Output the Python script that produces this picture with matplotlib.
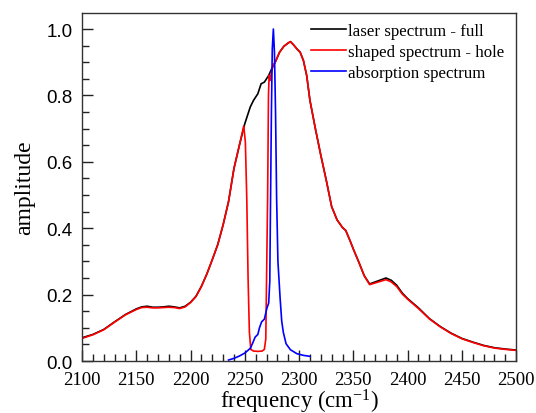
import numpy as np
import matplotlib
matplotlib.use('Agg')
import matplotlib.pyplot as plt
from matplotlib.ticker import MultipleLocator

# laser spectrum - full (black)
freq_full = [2100, 2110, 2120, 2130, 2140, 2150, 2155, 2160, 2165, 2170, 2175,
             2180, 2185, 2190, 2195, 2200, 2205, 2210, 2215, 2220, 2225, 2230,
             2235, 2240, 2245, 2250, 2255, 2258, 2262, 2265, 2268, 2272, 2275,
             2278, 2282, 2286, 2290, 2292, 2295, 2298, 2301, 2304, 2307, 2310,
             2315, 2320, 2325, 2330, 2335, 2340, 2343, 2347, 2350, 2355, 2360,
             2365, 2370, 2375, 2380, 2385, 2390, 2395, 2400, 2410, 2420, 2430,
             2440, 2450, 2460, 2470, 2480, 2490, 2500]
amp_full = [0.070, 0.080, 0.095, 0.118, 0.140, 0.157, 0.163, 0.165, 0.162, 0.162, 0.163,
            0.165, 0.163, 0.160, 0.165, 0.177, 0.195, 0.225, 0.262, 0.305, 0.350, 0.410,
            0.480, 0.580, 0.650, 0.715, 0.765, 0.785, 0.805, 0.835, 0.840, 0.860, 0.882,
            0.900, 0.930, 0.948, 0.958, 0.962, 0.952, 0.940, 0.930, 0.905, 0.860, 0.785,
            0.700, 0.620, 0.545, 0.465, 0.425, 0.402, 0.393, 0.362, 0.337, 0.298, 0.257,
            0.232, 0.238, 0.244, 0.250, 0.243, 0.228, 0.205, 0.188, 0.160, 0.128, 0.104,
            0.084, 0.068, 0.057, 0.047, 0.040, 0.036, 0.033]

# shaped spectrum - hole (red)
freq_hole = [2100, 2110, 2120, 2130, 2140, 2150, 2155, 2160, 2165, 2170, 2175,
             2180, 2185, 2190, 2195, 2200, 2205, 2210, 2215, 2220, 2225, 2230,
             2235, 2240, 2245, 2249, 2250.5, 2251.8, 2253, 2254.2, 2255.5, 2258,
             2262, 2266, 2268, 2269.3, 2270.2, 2271, 2271.8, 2272.4, 2273.3, 2274.5,
             2276, 2278, 2282, 2286, 2290, 2292, 2295, 2298, 2301, 2304, 2307, 2310,
             2315, 2320, 2325, 2330, 2335, 2340, 2343, 2347, 2350, 2355, 2360,
             2365, 2370, 2375, 2380, 2385, 2390, 2395, 2400, 2410, 2420, 2430,
             2440, 2450, 2460, 2470, 2480, 2490, 2500]
amp_hole = [0.068, 0.079, 0.094, 0.117, 0.139, 0.155, 0.161, 0.162, 0.160, 0.160, 0.161,
            0.162, 0.161, 0.158, 0.163, 0.176, 0.194, 0.224, 0.262, 0.305, 0.350, 0.410,
            0.480, 0.580, 0.650, 0.708, 0.660, 0.490, 0.250, 0.087, 0.035, 0.030,
            0.029, 0.030, 0.035, 0.066, 0.290, 0.490, 0.800, 0.860, 0.845, 0.870,
            0.890, 0.900, 0.930, 0.948, 0.958, 0.962, 0.952, 0.940, 0.930, 0.905, 0.860, 0.785,
            0.700, 0.620, 0.545, 0.465, 0.425, 0.402, 0.393, 0.362, 0.337, 0.298, 0.257,
            0.230, 0.235, 0.240, 0.245, 0.238, 0.224, 0.202, 0.186, 0.158, 0.127, 0.103,
            0.083, 0.067, 0.056, 0.046, 0.039, 0.035, 0.032]

# absorption spectrum (blue)
freq_abs = [2235, 2240, 2245, 2250, 2255, 2257, 2259.5, 2262, 2263.5, 2265.5, 2268,
            2270.2, 2272, 2273, 2273.6, 2274.5, 2275.3, 2276.3, 2277.3, 2278.3, 2279.3,
            2280.5, 2282.5, 2284, 2285.5, 2288, 2292, 2298, 2304, 2310]
amp_abs = [0.003, 0.008, 0.015, 0.024, 0.038, 0.052, 0.072, 0.080, 0.100, 0.118, 0.126,
           0.157, 0.175, 0.240, 0.450, 0.750, 0.940, 1.000, 0.930, 0.750, 0.490,
           0.300, 0.190, 0.120, 0.086, 0.052, 0.034, 0.022, 0.017, 0.014]

plt.rcParams['font.family'] = ['Liberation Serif', 'DejaVu Serif']
plt.rcParams['mathtext.default'] = 'regular'

fig = plt.figure(figsize=(5.36, 4.14), dpi=100)
ax = fig.add_axes([0.153, 0.1256, 0.81, 0.8404])

ax.plot(freq_full, amp_full, color='black', lw=1.2, label='laser spectrum - full')
ax.plot(freq_hole, amp_hole, color='#ff0000', lw=1.2, label='shaped spectrum - hole')
ax.plot(freq_abs, amp_abs, color='#0000ff', lw=1.2, label='absorption spectrum')

ax.set_xlim(2100, 2500)
ax.set_ylim(0, 1.048)
ax.xaxis.set_major_locator(MultipleLocator(50))
ax.xaxis.set_minor_locator(MultipleLocator(10))
ax.yaxis.set_major_locator(MultipleLocator(0.2))
ax.yaxis.set_minor_locator(MultipleLocator(0.05))
ax.yaxis.set_major_formatter(matplotlib.ticker.FormatStrFormatter('%.1f'))
ax.tick_params(which='both', direction='in', top=False, right=False, color='#222222')
ax.tick_params(which='major', length=8, width=1)
ax.tick_params(which='minor', length=5, width=1)
ax.tick_params(axis='x', labelsize=13.5, pad=7)
ax.tick_params(axis='y', labelsize=13.5, pad=7)
for lbl in ax.get_yticklabels():
    lbl.set_fontfamily(['Liberation Sans', 'DejaVu Sans'])
for s in ax.spines.values():
    s.set_color('#333333')
    s.set_linewidth(1.0)

ax.set_xlabel('frequency (cm$^{-1}$)', fontsize=16.5, labelpad=-1)
ax.set_ylabel('amplitude', fontsize=17, labelpad=8)

ax.legend(loc='upper right', bbox_to_anchor=(1.0, 1.005), frameon=False, fontsize=12.2,
          handlelength=2.1, handletextpad=0.1, labelspacing=0.3, borderaxespad=0.3)

fig.savefig('out.png', dpi=100)
